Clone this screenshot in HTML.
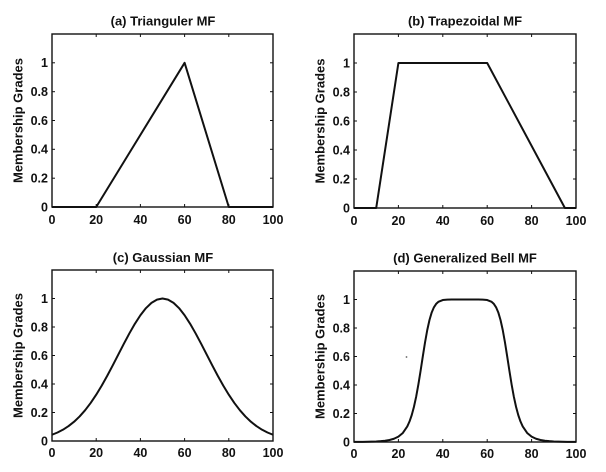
<!DOCTYPE html>
<html><head><meta charset="utf-8"><style>
html,body{margin:0;padding:0;background:#fff;}
svg{display:block;}
text{font-family:"Liberation Sans",Arial,sans-serif;font-weight:bold;fill:#111;}
.t{font-size:13px;text-anchor:middle;}
.xl{font-size:12.5px;text-anchor:middle;}
.yl{font-size:12.5px;text-anchor:end;}
.lab{font-size:13px;text-anchor:middle;}
.ax{fill:none;stroke:#111;stroke-width:1.4;}
.tk{stroke:#111;stroke-width:1;}
.c{fill:none;stroke:#111;stroke-width:2;stroke-linejoin:round;}
</style></head><body>
<svg width="606" height="472" viewBox="0 0 606 472" xmlns="http://www.w3.org/2000/svg">
<rect width="606" height="472" fill="#fff"/>

<!-- Panel A -->
<g>
<text class="t" x="163" y="25.5">(a) Trianguler MF</text>
<text class="lab" transform="translate(22.5,120.5) rotate(-90)">Membership Grades</text>
<rect class="ax" x="52" y="34" width="221" height="173"/>
<g class="tk">
<line x1="52" y1="207" x2="52" y2="204"/><line x1="96.2" y1="207" x2="96.2" y2="204"/><line x1="140.4" y1="207" x2="140.4" y2="204"/><line x1="184.6" y1="207" x2="184.6" y2="204"/><line x1="228.8" y1="207" x2="228.8" y2="204"/>
<line x1="96.2" y1="34" x2="96.2" y2="37"/><line x1="140.4" y1="34" x2="140.4" y2="37"/><line x1="184.6" y1="34" x2="184.6" y2="37"/><line x1="228.8" y1="34" x2="228.8" y2="37"/>
<line x1="52" y1="178.2" x2="55" y2="178.2"/><line x1="52" y1="149.3" x2="55" y2="149.3"/><line x1="52" y1="120.5" x2="55" y2="120.5"/><line x1="52" y1="91.7" x2="55" y2="91.7"/><line x1="52" y1="62.8" x2="55" y2="62.8"/>
<line x1="273" y1="178.2" x2="270" y2="178.2"/><line x1="273" y1="149.3" x2="270" y2="149.3"/><line x1="273" y1="120.5" x2="270" y2="120.5"/><line x1="273" y1="91.7" x2="270" y2="91.7"/><line x1="273" y1="62.8" x2="270" y2="62.8"/>
</g>
<text class="xl" x="52" y="224">0</text><text class="xl" x="96.2" y="224">20</text><text class="xl" x="140.4" y="224">40</text><text class="xl" x="184.6" y="224">60</text><text class="xl" x="228.8" y="224">80</text><text class="xl" x="273" y="224">100</text>
<text class="yl" x="48" y="211.5">0</text><text class="yl" x="48" y="182.6">0.2</text><text class="yl" x="48" y="153.7">0.4</text><text class="yl" x="48" y="124.9">0.6</text><text class="yl" x="48" y="96.1">0.8</text><text class="yl" x="48" y="67.2">1</text>
<polyline class="c" points="52,207 96.2,207 184.6,62.8 228.8,207 273,207"/>
</g>

<!-- Panel B -->
<g>
<text class="t" x="465" y="25.5">(b) Trapezoidal MF</text>
<text class="lab" transform="translate(324.5,121) rotate(-90)">Membership Grades</text>
<rect class="ax" x="354" y="34" width="222" height="174"/>
<g class="tk">
<line x1="398.4" y1="208" x2="398.4" y2="205"/><line x1="442.8" y1="208" x2="442.8" y2="205"/><line x1="487.2" y1="208" x2="487.2" y2="205"/><line x1="531.6" y1="208" x2="531.6" y2="205"/>
<line x1="398.4" y1="34" x2="398.4" y2="37"/><line x1="442.8" y1="34" x2="442.8" y2="37"/><line x1="487.2" y1="34" x2="487.2" y2="37"/><line x1="531.6" y1="34" x2="531.6" y2="37"/>
<line x1="354" y1="179" x2="357" y2="179"/><line x1="354" y1="150" x2="357" y2="150"/><line x1="354" y1="121" x2="357" y2="121"/><line x1="354" y1="92" x2="357" y2="92"/><line x1="354" y1="63" x2="357" y2="63"/>
<line x1="576" y1="179" x2="573" y2="179"/><line x1="576" y1="150" x2="573" y2="150"/><line x1="576" y1="121" x2="573" y2="121"/><line x1="576" y1="92" x2="573" y2="92"/><line x1="576" y1="63" x2="573" y2="63"/>
</g>
<text class="xl" x="354" y="225">0</text><text class="xl" x="398.4" y="225">20</text><text class="xl" x="442.8" y="225">40</text><text class="xl" x="487.2" y="225">60</text><text class="xl" x="531.6" y="225">80</text><text class="xl" x="576" y="225">100</text>
<text class="yl" x="350" y="212.5">0</text><text class="yl" x="350" y="183.4">0.2</text><text class="yl" x="350" y="154.4">0.4</text><text class="yl" x="350" y="125.4">0.6</text><text class="yl" x="350" y="96.4">0.8</text><text class="yl" x="350" y="67.4">1</text>
<polyline class="c" points="354,208 376.2,208 398.4,63 487.2,63 564.9,208 576,208"/>
</g>

<!-- Panel C -->
<g>
<text class="t" x="163" y="262">(c) Gaussian MF</text>
<text class="lab" transform="translate(22.5,355.5) rotate(-90)">Membership Grades</text>
<rect class="ax" x="52" y="270" width="221" height="171"/>
<g class="tk">
<line x1="96.2" y1="441" x2="96.2" y2="438"/><line x1="140.4" y1="441" x2="140.4" y2="438"/><line x1="184.6" y1="441" x2="184.6" y2="438"/><line x1="228.8" y1="441" x2="228.8" y2="438"/>
<line x1="96.2" y1="270" x2="96.2" y2="273"/><line x1="140.4" y1="270" x2="140.4" y2="273"/><line x1="184.6" y1="270" x2="184.6" y2="273"/><line x1="228.8" y1="270" x2="228.8" y2="273"/>
<line x1="52" y1="412.5" x2="55" y2="412.5"/><line x1="52" y1="384" x2="55" y2="384"/><line x1="52" y1="355.5" x2="55" y2="355.5"/><line x1="52" y1="327" x2="55" y2="327"/><line x1="52" y1="298.5" x2="55" y2="298.5"/>
<line x1="273" y1="412.5" x2="270" y2="412.5"/><line x1="273" y1="384" x2="270" y2="384"/><line x1="273" y1="355.5" x2="270" y2="355.5"/><line x1="273" y1="327" x2="270" y2="327"/><line x1="273" y1="298.5" x2="270" y2="298.5"/>
</g>
<text class="xl" x="52" y="457">0</text><text class="xl" x="96.2" y="457">20</text><text class="xl" x="140.4" y="457">40</text><text class="xl" x="184.6" y="457">60</text><text class="xl" x="228.8" y="457">80</text><text class="xl" x="273" y="457">100</text>
<text class="yl" x="48" y="445.5">0</text><text class="yl" x="48" y="417">0.2</text><text class="yl" x="48" y="388.5">0.4</text><text class="yl" x="48" y="360">0.6</text><text class="yl" x="48" y="331.5">0.8</text><text class="yl" x="48" y="303">1</text>
<g transform="translate(52,441) scale(2.21,-142.5)">
<polyline class="c" vector-effect="non-scaling-stroke" points="0,0.0439 2.5,0.0596 5,0.0796 7.5,0.1046 10,0.1353 12.5,0.1724 15,0.2163 17.5,0.2671 20,0.3247 22.5,0.3886 25,0.4578 27.5,0.5311 30,0.6065 32.5,0.6819 35,0.7548 37.5,0.8226 40,0.8825 42.5,0.9321 45,0.9692 47.5,0.9922 50,1 52.5,0.9922 55,0.9692 57.5,0.9321 60,0.8825 62.5,0.8226 65,0.7548 67.5,0.6819 70,0.6065 72.5,0.5311 75,0.4578 77.5,0.3886 80,0.3247 82.5,0.2671 85,0.2163 87.5,0.1724 90,0.1353 92.5,0.1046 95,0.0796 97.5,0.0596 100,0.0439"/>
</g>
</g>

<!-- Panel D -->
<g>
<text class="t" x="465" y="262.5">(d) Generalized Bell MF</text>
<text class="lab" transform="translate(324.5,356.5) rotate(-90)">Membership Grades</text>
<rect class="ax" x="354" y="271" width="222" height="171"/>
<g class="tk">
<line x1="398.4" y1="442" x2="398.4" y2="439"/><line x1="442.8" y1="442" x2="442.8" y2="439"/><line x1="487.2" y1="442" x2="487.2" y2="439"/><line x1="531.6" y1="442" x2="531.6" y2="439"/>
<line x1="398.4" y1="271" x2="398.4" y2="274"/><line x1="442.8" y1="271" x2="442.8" y2="274"/><line x1="487.2" y1="271" x2="487.2" y2="274"/><line x1="531.6" y1="271" x2="531.6" y2="274"/>
<line x1="354" y1="413.5" x2="357" y2="413.5"/><line x1="354" y1="385" x2="357" y2="385"/><line x1="354" y1="356.5" x2="357" y2="356.5"/><line x1="354" y1="328" x2="357" y2="328"/><line x1="354" y1="299.5" x2="357" y2="299.5"/>
<line x1="576" y1="413.5" x2="573" y2="413.5"/><line x1="576" y1="385" x2="573" y2="385"/><line x1="576" y1="356.5" x2="573" y2="356.5"/><line x1="576" y1="328" x2="573" y2="328"/><line x1="576" y1="299.5" x2="573" y2="299.5"/>
</g>
<text class="xl" x="354" y="458">0</text><text class="xl" x="398.4" y="458">20</text><text class="xl" x="442.8" y="458">40</text><text class="xl" x="487.2" y="458">60</text><text class="xl" x="531.6" y="458">80</text><text class="xl" x="576" y="458">100</text>
<text class="yl" x="350" y="446.5">0</text><text class="yl" x="350" y="418">0.2</text><text class="yl" x="350" y="389.5">0.4</text><text class="yl" x="350" y="361">0.6</text><text class="yl" x="350" y="332.5">0.8</text><text class="yl" x="350" y="304">1</text>
<circle cx="406.5" cy="357" r="0.9" fill="#666"/>
<g transform="translate(354,442) scale(2.22,-142.5)">
<polyline class="c" vector-effect="non-scaling-stroke" points="0,0.00066 2,0.00091 4,0.00128 6,0.00182 8,0.00264 10,0.00389 12,0.00585 14,0.00899 16,0.01413 18,0.02275 20,0.03755 22,0.06346 24,0.1092 25,0.1437 26,0.18868 27,0.2464 28,0.31811 29,0.4037 30,0.5 31,0.6012 32,0.69907 33,0.7859 34,0.85633 35,0.909 36,0.9455 37,0.9691 38,0.98348 40,0.99611 42,0.99935 44,0.99993 46,1 50,1 54,1 56,0.99993 58,0.99935 60,0.99611 62,0.98348 63,0.9691 64,0.9455 65,0.909 66,0.85633 67,0.7859 68,0.69907 69,0.6012 70,0.5 71,0.4037 72,0.31811 73,0.2464 74,0.18868 75,0.1437 76,0.1092 78,0.06346 80,0.03755 82,0.02275 84,0.01413 86,0.00899 88,0.00585 90,0.00389 92,0.00264 94,0.00182 96,0.00128 98,0.00091 100,0.00066"/>
</g>
</g>
</svg>
</body></html>
